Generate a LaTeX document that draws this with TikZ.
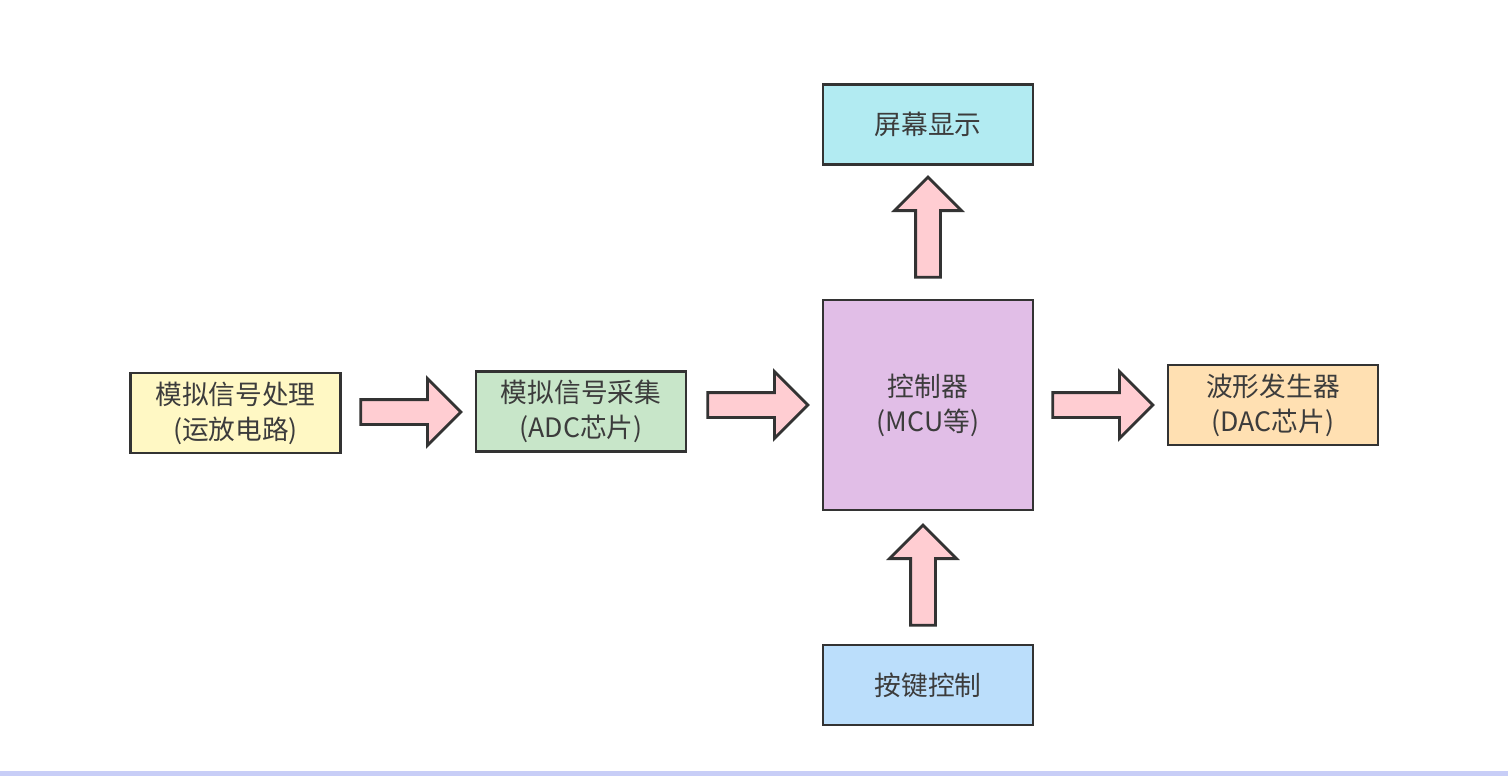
\documentclass[tikz,border=0pt]{standalone}
\usepackage{fontspec}
\setmainfont{Noto Sans CJK SC}
\usetikzlibrary{calc, shapes.arrows}
\definecolor{boxLine}{HTML}{333333}
\definecolor{textGray}{HTML}{3C3C3C}
\definecolor{procYellow}{HTML}{FFF8C4}
\definecolor{adcGreen}{HTML}{C8E6C9}
\definecolor{mcuViolet}{HTML}{E1BEE7}
\definecolor{lcdCyan}{HTML}{B2EBF2}
\definecolor{dacOrange}{HTML}{FFE0B2}
\definecolor{keyBlue}{HTML}{BBDEFB}
\definecolor{flowPink}{HTML}{FFCDD2}
\definecolor{edgeBlue}{HTML}{C8CEF7}

\tikzset{
    block/.style={draw=boxLine, line width=1.6pt, minimum width=4.2cm,
        minimum height=1.6cm, align=center, text=textGray, inner sep=0pt,
        font=\fontsize{15.2}{19.8}\selectfont},
    flow/.style={single arrow, draw=boxLine, fill=flowPink, line width=1.6pt,
        minimum height=2cm, inner sep=0.22cm, anchor=tail,
        single arrow head extend=0.42cm, single arrow tip angle=90}
}

\begin{document}
\begin{tikzpicture}
    \useasboundingbox[fill=white] (0, 0) rectangle (30.16, -15.52);
    \fill[edgeBlue] (0, -15.42) rectangle (30.16, -15.52);

    % signal chain
    \node[block, fill=procYellow] (proc) at (4.71, -8.26) {模拟信号处理\\(运放电路)};
    \node[block, fill=adcGreen] (adc) at (11.62, -8.23) {模拟信号采集\\(ADC芯片)};
    \node[block, fill=mcuViolet, minimum height=4.2cm] (mcu) at (18.56, -8.1) {控制器\\(MCU等)};
    \node[block, fill=dacOrange] (dac) at (25.46, -8.1) {波形发生器\\(DAC芯片)};
    \node[block, fill=lcdCyan] (lcd) at (18.56, -2.49) {屏幕显示};
    \node[block, fill=keyBlue] (keys) at (18.56, -13.7) {按键控制};

    % block arrows, placed by their tails
    \node[flow] (procToAdc) at ($(proc.east)+(0.35, 0.02)$) {};
    \node[flow] (adcToMcu) at ($(adc.east)+(0.38, 0.13)$) {};
    \node[flow] (mcuToDac) at ($(mcu.east)+(0.34, 0)$) {};
    \node[flow, shape border rotate=90] (mcuToLcd) at ($(mcu.north)+(0, 0.4)$) {};
    \node[flow, shape border rotate=90] (keysToMcu) at ($(keys.north)+(-0.1, 0.34)$) {};
\end{tikzpicture}
\end{document}
